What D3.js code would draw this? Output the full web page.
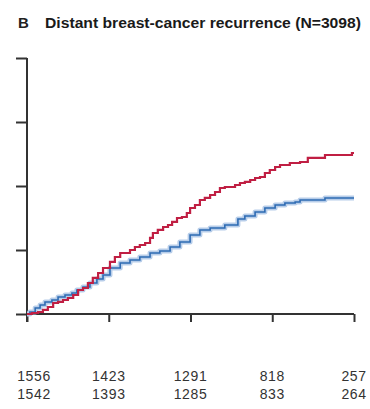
<!DOCTYPE html>
<html>
<head>
<meta charset="utf-8">
<script src="https://cdn.jsdelivr.net/npm/d3@7"></script>
<style>
  html, body { margin: 0; padding: 0; background: #fff; }
  svg { display: block; }
</style>
</head>
<body>
<svg id="chart" width="370" height="409"></svg>
<script>
// Cumulative incidence (%) of distant recurrence by years of follow-up
const redYears = [0, 0.12, 0.27, 0.39, 0.51, 0.64, 0.76, 0.88, 1.0, 1.13, 1.25, 1.37, 1.49, 1.61, 1.74, 1.86, 2.03, 2.15, 2.28, 2.52, 2.64, 2.76, 2.89, 3.01, 3.08, 3.2, 3.33, 3.45, 3.55, 3.67, 3.79, 3.91, 3.99, 4.11, 4.23, 4.35, 4.48, 4.6, 4.72, 4.84, 5.09, 5.21, 5.33, 5.46, 5.58, 5.7, 5.82, 5.94, 6.07, 6.19, 6.43, 6.68, 6.87, 7.29, 7.95, 8.0];
const redPct   = [0, 0.16, 0.31, 0.63, 1.09, 1.72, 1.88, 2.19, 2.5, 2.97, 3.75, 4.06, 4.84, 5.63, 6.41, 7.19, 8.13, 8.91, 9.53, 10.0, 10.47, 10.78, 11.09, 11.88, 12.66, 13.13, 13.59, 13.91, 14.38, 15.0, 15.16, 15.78, 16.56, 17.03, 17.81, 18.13, 18.59, 19.06, 19.69, 19.84, 20.16, 20.47, 20.63, 20.94, 21.25, 21.41, 22.03, 22.5, 22.97, 23.28, 23.59, 23.75, 24.38, 24.84, 25.16, 25.16];

const blueYears = [0, 0.07, 0.2, 0.32, 0.44, 0.61, 0.76, 0.93, 1.1, 1.22, 1.37, 1.54, 1.71, 1.86, 2.03, 2.28, 2.52, 2.76, 3.01, 3.25, 3.5, 3.74, 3.99, 4.23, 4.48, 4.84, 5.16, 5.33, 5.58, 5.82, 6.07, 6.31, 6.56, 6.68, 7.29, 8.0];
const bluePct   = [0, 0.31, 0.94, 1.41, 1.88, 2.19, 2.66, 2.97, 3.28, 3.75, 4.22, 4.84, 5.47, 6.09, 7.19, 7.97, 8.44, 8.91, 9.53, 9.84, 10.47, 11.25, 12.34, 13.13, 13.44, 13.91, 14.84, 15.31, 15.94, 16.56, 17.03, 17.34, 17.5, 17.81, 18.13, 18.13];

const xTicks = [0, 2, 4, 6, 8];
const yTicks = [0, 10, 20, 30, 40];
const atRiskRed  = ["1556", "1423", "1291", "818", "257"];
const atRiskBlue = ["1542", "1393", "1285", "833", "264"];

const svg = d3.select("#chart");

const x = d3.scaleLinear().domain([0, 8]).range([27, 354]);
const y = d3.scaleLinear().domain([0, 40]).range([314, 58]);

// Panel title
svg.append("text")
  .attr("x", 18).attr("y", 28)
  .attr("font-family", "Liberation Sans, Arial, sans-serif")
  .attr("font-weight", "bold").attr("font-size", 15)
  .attr("fill", "#222").text("B");
svg.append("text")
  .attr("x", 45).attr("y", 28)
  .attr("font-family", "Liberation Sans Narrow, Liberation Sans, Arial, sans-serif")
  .attr("font-weight", "bold").attr("font-size", 14)
  .attr("textLength", 316).attr("lengthAdjust", "spacingAndGlyphs")
  .attr("fill", "#1a1a1a").text("Distant breast-cancer recurrence (N=3098)");

// Axes
const axisColor = "#333";
const yAxis = svg.append("g")
  .attr("transform", `translate(${x(0)},0)`)
  .call(d3.axisLeft(y).tickValues(yTicks).tickSize(11).tickFormat(""));
const xAxis = svg.append("g")
  .attr("transform", `translate(0,${y(0)})`)
  .call(d3.axisBottom(x).tickValues(xTicks).tickSize(8).tickFormat(""));
[yAxis, xAxis].forEach(g => {
  g.select(".domain").attr("stroke", axisColor).attr("stroke-width", 2);
  g.selectAll(".tick line").attr("stroke", axisColor).attr("stroke-width", 2);
});
xAxis.select(".domain").attr("d", `M${x(0)},0H${x(8)}`);
yAxis.select(".domain").attr("d", `M0,${y(40)}V${y(0) + 8}`);

// Step curves
const line = d3.line()
  .x(d => x(d[0]))
  .y(d => y(d[1]))
  .curve(d3.curveStepAfter);

const bluePts = d3.zip(blueYears, bluePct);
const redPts = d3.zip(redYears, redPct);

svg.append("path").datum(bluePts)
  .attr("d", line).attr("fill", "none")
  .attr("stroke", "#b7cde9").attr("stroke-width", 5)
  .attr("stroke-linejoin", "round");
svg.append("path").datum(bluePts)
  .attr("d", line).attr("fill", "none")
  .attr("stroke", "#2e6bb3").attr("stroke-width", 1.6);
svg.append("path").datum(redPts)
  .attr("d", line).attr("fill", "none")
  .attr("stroke", "#c01f43").attr("stroke-width", 2.2);

// Numbers at risk
const riskFont = "Liberation Sans, Arial, sans-serif";
[[atRiskRed, 381], [atRiskBlue, 399]].forEach(([vals, yy]) => {
  svg.append("g").selectAll("text")
    .data(vals).join("text")
    .attr("x", (d, i) => x(xTicks[i]) + (i === 0 ? 7 : 0))
    .attr("y", yy)
    .attr("text-anchor", "middle")
    .attr("font-family", riskFont).attr("font-size", 14)
    .attr("letter-spacing", 0.6)
    .attr("fill", "#333")
    .text(d => d);
});
</script>
</body>
</html>
